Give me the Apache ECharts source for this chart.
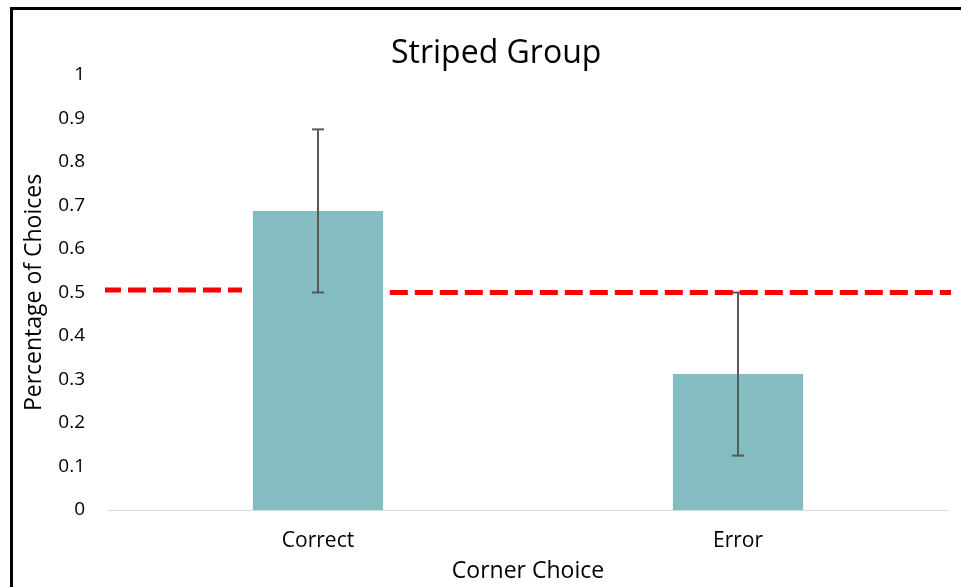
<!DOCTYPE html>
<html><head><meta charset="utf-8">
<script src="https://cdn.jsdelivr.net/npm/echarts@6/dist/echarts.min.js"></script>
<style>
html,body{margin:0;padding:0;background:#fff;overflow:hidden}
#frame{position:absolute;left:10px;top:7px;width:1000px;height:640px;border:3px solid #000;box-sizing:border-box}
#chart{position:absolute;left:0;top:0;width:961px;height:587px}
</style></head>
<body>
<div id="frame"></div>
<div id="chart"></div>
<script>
var categories = ['Correct', 'Error'];
var values = [0.6875, 0.3125];
var errors = [0.1875, 0.1875];
var yTicks = [0, 0.1, 0.2, 0.3, 0.4, 0.5, 0.6, 0.7, 0.8, 0.9, 1];
// chance reference line (drawn as two segments, x in category-span units)
var refLeft = [[-0.012, 0.506], [0.319, 0.506]];
var refRight = [[0.671, 0.5], [2.03, 0.5]];

var chart = echarts.init(document.getElementById('chart'), null, {renderer: 'canvas'});
var font = 'Open Sans, Noto Sans, sans-serif';
chart.setOption({
  backgroundColor: 'transparent',
  animation: false,
  title: {text: 'Striped Group', left: 386, top: 33,
    textStyle: {fontFamily: font, fontSize: 32, fontWeight: 'normal', color: '#000'}},
  grid: {left: 108, right: 13, top: 75, bottom: 77, containLabel: false, outerBoundsMode: 'none'},
  xAxis: [{
    type: 'category', data: categories,
    axisLine: {lineStyle: {color: '#d9d9d9', width: 1}},
    axisTick: {show: false},
    axisLabel: {fontFamily: font, fontSize: 21, color: '#000', margin: 21},
    name: 'Corner Choice', nameLocation: 'middle', nameGap: 50,
    nameTextStyle: {fontFamily: font, fontSize: 23, color: '#000'}
  }, {
    type: 'value', min: 0, max: 2, show: false
  }],
  yAxis: {
    type: 'value', min: 0, max: 1, interval: 0.1,
    splitLine: {show: false},
    axisLine: {show: false}, axisTick: {show: false},
    axisLabel: {fontFamily: font, fontSize: 19, color: '#000', margin: 23,
      formatter: function (v) { var r = Math.round(v * 10) / 10; return yTicks.indexOf(r) >= 0 ? String(r) : ''; }},
    name: 'Percentage of Choices', nameLocation: 'middle', nameGap: 62, nameRotate: 90,
    nameTextStyle: {fontFamily: font, fontSize: 23, color: '#000'}
  },
  series: [{
    type: 'bar', data: values, barWidth: '31%',
    itemStyle: {color: '#84bdc1'}, z: 2
  }, {
    type: 'custom', z: 3,
    data: values.map(function (v, i) { return [i, v - errors[i], v + errors[i]]; }),
    renderItem: function (params, api) {
      var lo = api.coord([api.value(0), api.value(1)]);
      var hi = api.coord([api.value(0), api.value(2)]);
      var w = 6;
      var st = {stroke: '#595959', lineWidth: 2};
      return {type: 'group', children: [
        {type: 'line', shape: {x1: hi[0], y1: hi[1], x2: lo[0], y2: lo[1]}, style: st},
        {type: 'line', shape: {x1: hi[0] - w, y1: hi[1], x2: hi[0] + w, y2: hi[1]}, style: st},
        {type: 'line', shape: {x1: lo[0] - w, y1: lo[1], x2: lo[0] + w, y2: lo[1]}, style: st}
      ]};
    }
  }, {
    type: 'line', xAxisIndex: 1, data: refLeft, clip: false, symbol: 'none', z: 4,
    lineStyle: {color: '#ff0000', width: 5, type: [18, 7]}
  }, {
    type: 'line', xAxisIndex: 1, data: refRight, clip: false, symbol: 'none', z: 4,
    lineStyle: {color: '#ff0000', width: 5, type: [18, 7]}
  }]
});
</script>
</body></html>
